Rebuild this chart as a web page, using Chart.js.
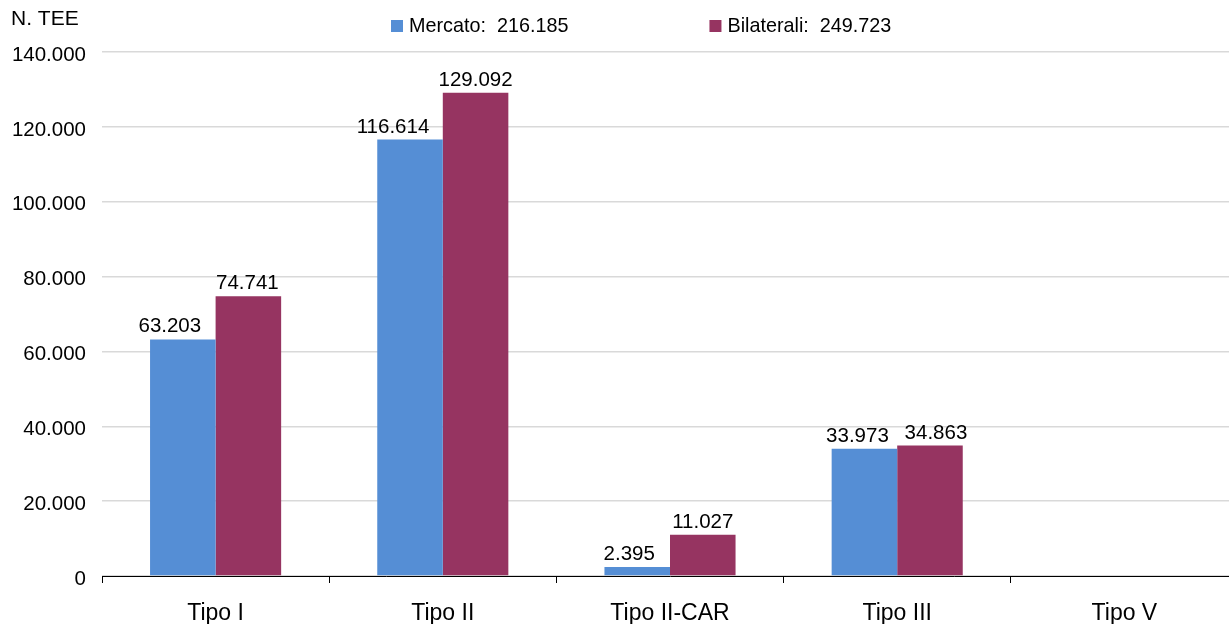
<!DOCTYPE html>
<html>
<head>
<meta charset="utf-8">
<script src="https://cdn.jsdelivr.net/npm/chart.js@4.4.1/dist/chart.umd.min.js"></script>
<style>
  html, body { margin: 0; padding: 0; background: #fff; overflow: hidden; }
  #wrap { width: 1238px; height: 624px; position: relative; }
</style>
</head>
<body>
<div id="wrap"><canvas id="c"></canvas></div>
<script>
// Categorie di titoli (TEE) e quantità scambiate
const categories = ['Tipo I', 'Tipo II', 'Tipo II-CAR', 'Tipo III', 'Tipo V'];
const mercato    = [63203, 116614, 2395, 33973, 0];
const bilaterali = [74741, 129092, 11027, 34863, 0];
const seriesNames = ['Mercato', 'Bilaterali'];
const yTicks = [0, 20000, 40000, 60000, 80000, 100000, 120000, 140000];
const axisTitle = 'N. TEE';

// small horizontal nudges so neighbouring value labels don't collide
const labelNudge = [[-13, -17, -8, -7, 0], [-1, 0, 0, 6, 0]];

const FONT = "'Liberation Sans', Arial, sans-serif";
const COLORS = ['#558ed5', '#963461'];

function fmt(v) {
  return String(Math.round(v)).replace(/\B(?=(\d{3})+(?!\d))/g, '.');
}
const sum = a => a.reduce((s, v) => s + v, 0);

const headerPlugin = {
  id: 'header',
  afterDraw(chart) {
    const ctx = chart.ctx;
    ctx.save();
    ctx.fillStyle = '#000';
    ctx.textBaseline = 'middle';
    ctx.textAlign = 'left';
    ctx.font = '21px ' + FONT;
    ctx.fillText(axisTitle, 11, 19);

    // legend with series totals
    ctx.font = '19.8px ' + FONT;
    const items = chart.data.datasets.map(ds => ({
      text: ds.label + ':  ' + fmt(sum(ds.data)),
      color: ds.backgroundColor
    }));
    const box = 12, gapBox = 6, gapItem = 141;
    let x = 391;
    items.forEach(it => {
      ctx.fillStyle = it.color;
      ctx.fillRect(x, 20, box, box);
      ctx.fillStyle = '#000';
      ctx.fillText(it.text, x + box + gapBox, 27);
      x += box + gapBox + ctx.measureText(it.text).width + gapItem;
    });
    ctx.restore();
  }
};

const valueLabels = {
  id: 'valueLabels',
  afterDatasetsDraw(chart) {
    const ctx = chart.ctx;
    ctx.save();
    ctx.font = '20.5px ' + FONT;
    ctx.fillStyle = '#000';
    ctx.textAlign = 'center';
    ctx.textBaseline = 'alphabetic';
    chart.data.datasets.forEach((ds, di) => {
      const meta = chart.getDatasetMeta(di);
      meta.data.forEach((bar, i) => {
        const v = ds.data[i];
        if (!v) return;
        ctx.fillText(fmt(v), bar.x + labelNudge[di][i], bar.y - 7);
      });
    });
    ctx.restore();
  }
};

new Chart(document.getElementById('c'), {
  type: 'bar',
  data: {
    labels: categories,
    datasets: [
      { label: seriesNames[0], data: mercato, backgroundColor: COLORS[0] },
      { label: seriesNames[1], data: bilaterali, backgroundColor: COLORS[1] }
    ]
  },
  options: {
    responsive: true,
    maintainAspectRatio: false,
    animation: false,
    devicePixelRatio: 1,
    categoryPercentage: 0.577,
    barPercentage: 1.0,
    layout: { padding: { top: 52, right: 0, bottom: 0, left: 0 } },
    plugins: {
      legend: { display: false },
      tooltip: { enabled: false }
    },
    scales: {
      x: {
        offset: true,
        afterFit(scale) { scale.height = 48; },
        grid: {
          offset: true,
          drawOnChartArea: false,
          drawTicks: true,
          tickLength: 7,
          color: '#000'
        },
        border: { display: true, color: '#000', width: 1 },
        ticks: {
          font: { family: FONT, size: 23 },
          color: '#000',
          padding: 17,
          maxRotation: 0
        }
      },
      y: {
        min: 0,
        max: 140000,
        afterBuildTicks(scale) {
          scale.ticks = yTicks.map(v => ({ value: v }));
        },
        afterFit(scale) { scale.width = 102; },
        grid: {
          color: '#d9d9d9',
          drawTicks: false,
          lineWidth: 1.5
        },
        border: { display: false },
        ticks: {
          font: { family: FONT, size: 20.5 },
          color: '#000',
          padding: 16,
          labelOffset: 3,
          callback: v => fmt(v)
        }
      }
    }
  },
  plugins: [headerPlugin, valueLabels]
});
</script>
</body>
</html>
